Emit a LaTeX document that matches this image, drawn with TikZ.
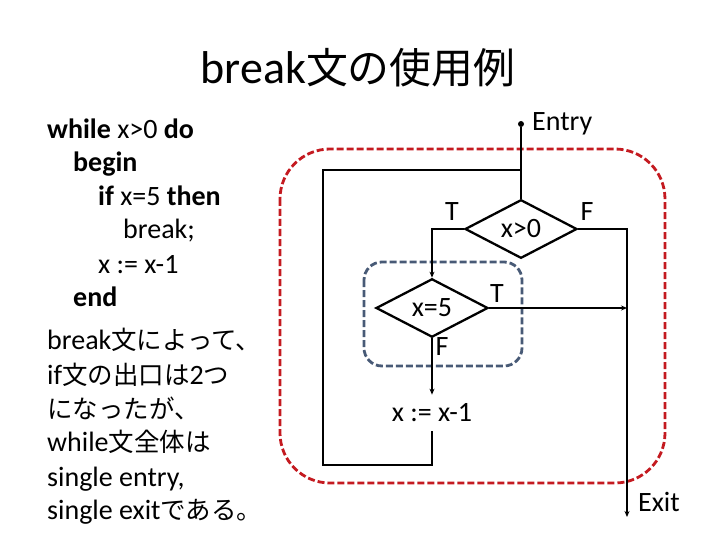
\documentclass[tikz,border=0pt]{standalone}
\usepackage{fontspec}
\setmainfont{Carlito}
\newfontfamily\jp[Scale=0.91]{Noto Sans CJK JP}
\usepackage{xcolor}
\usetikzlibrary{arrows.meta,positioning,shapes.geometric}
\definecolor{loopred}{RGB}{196,26,32}
\definecolor{ifblue}{RGB}{72,90,118}

\begin{document}
\begin{tikzpicture}[x=1pt, y=-1pt, >={Stealth[length=6pt,width=5pt]},
    font=\fontsize{28}{33}\selectfont,
    cond/.style={diamond, draw, line width=2.3pt, minimum width=112pt, minimum height=56pt, inner sep=0pt},
    codeline/.style={anchor=base west, inner sep=0pt},
    flow/.style={line width=2pt},
    back/.style={line width=1.1pt},
    region/.style={dash pattern=on 7pt off 3pt, line width=2.8pt},
    dot/.style={circle, fill, inner sep=0pt, minimum size=6pt}]
    \useasboundingbox (0,0) rectangle (720,540);
    % title
    \node[font=\fontsize{46}{52}\selectfont] (title) at (358,68) {break{\jp 文の使用例}};
    % program text
    \node[codeline] (l1) at (47,139) {\textbf{while} x>0 \textbf{do}};
    \node[codeline] (l2) at (73,172) {\textbf{begin}};
    \node[codeline] (l3) at (98,206) {\textbf{if} x=5 \textbf{then}};
    \node[codeline] (l4) at (123,239) {break;};
    \node[codeline] (l5) at (98,273) {x := x-1};
    \node[codeline] (l6) at (73,306) {\textbf{end}};
    \node[codeline] (n1) at (47,349) {break{\jp 文によって、}};
    \node[codeline] (n2) at (47,384) {if{\jp 文の出口は}2{\jp つ}};
    \node[codeline] (n3) at (47,418) {{\jp になったが、}};
    \node[codeline] (n4) at (47,451) {while{\jp 文全体は}};
    \node[codeline] (n5) at (47,486) {single entry,};
    \node[codeline] (n6) at (47,519) {single exit{\jp である。}};
    % regions
    \draw[region, loopred, rounded corners=50pt] (280,149) rectangle (665,483);
    \draw[region, ifblue, rounded corners=18pt] (364,262) rectangle (522,366);
    % flow graph
    \node[dot] (entry) at (521,124) {};
    \node[anchor=west, inner sep=0pt] (entrylbl) at (532,124) {Entry};
    \coordinate (join) at (521,170);
    \node[cond] (c1) at (521,229) {x>0};
    \node[cond] (c2) at (432,308) {x=5};
    \node[inner sep=9pt] (dec) at (432,413) {x := x-1};
    \coordinate (bl) at (323,465);
    \coordinate (exit) at (627,517);
    \node[anchor=west, inner sep=0pt] (exitlbl) at (638,502) {Exit};
    \node (t1) at (452,212) {T};
    \node (f1) at (587,212) {F};
    \node (t2) at (497,294) {T};
    \node (f2) at (442,347) {F};
    \draw[flow] (entry) -- (join) -- (c1.north);
    \draw[flow, ->] (c1.west) -| (c2.north);
    \draw[flow, ->] (c1.east) -| (exit);
    \draw[flow, ->] (c2.east) -- (c2.east -| exit);
    \draw[flow, ->] (c2.south) -- (dec.north);
    \draw[back] (dec.south) |- (bl) |- (join);
\end{tikzpicture}
\end{document}
